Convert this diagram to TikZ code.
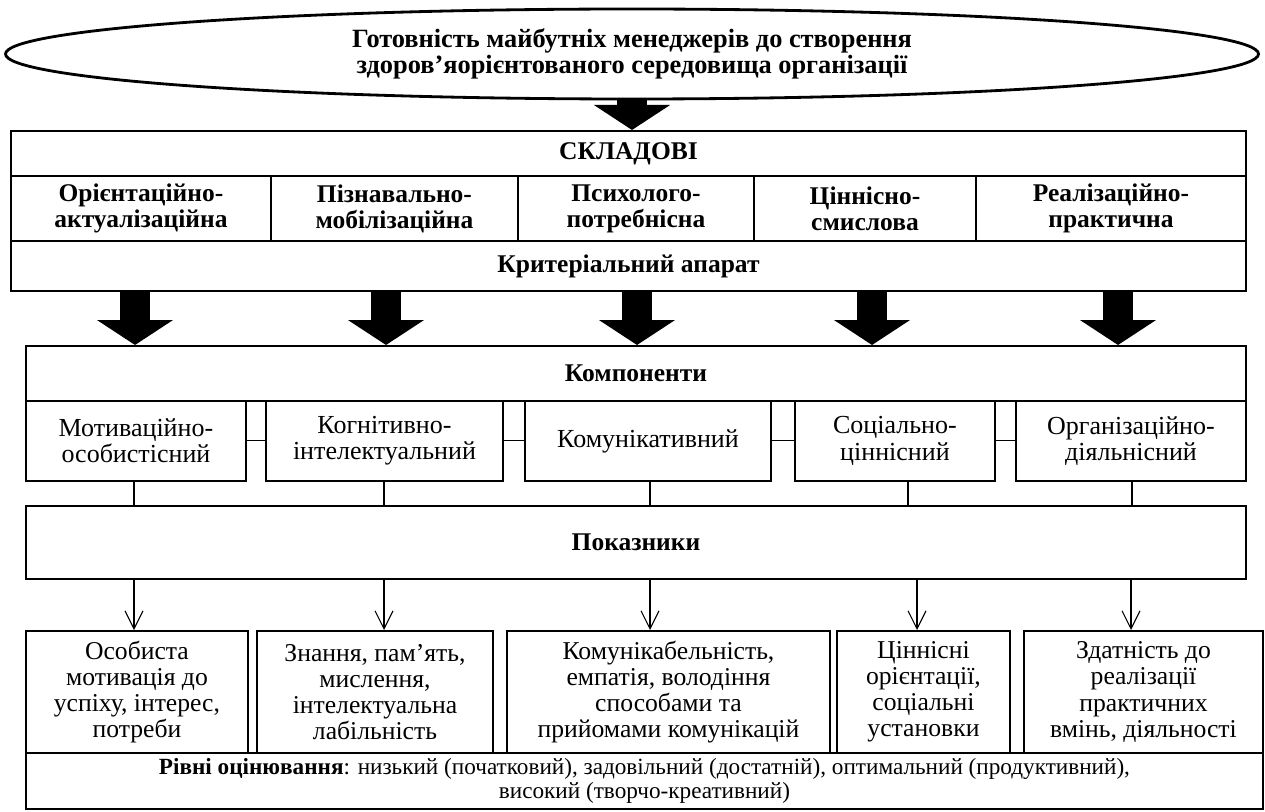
\documentclass[tikz,border=0pt]{standalone}
\usepackage{fontspec}
\setmainfont{Liberation Serif}
\usetikzlibrary{arrows.meta, shapes.geometric}
\newcommand{\setfs}[2]{\fontsize{#1}{#2}\selectfont\lineskiplimit=-30pt\relax}

\begin{document}
\begin{tikzpicture}[x=0.2mm, y=-0.2mm, font=\setfs{14.8}{15},
    box/.style={draw, line width=1.1pt, align=center, inner sep=0pt, anchor=north west},
    hd/.style={box, font=\setfs{14.5}{14.8}\bfseries},
    low/.style={box, font=\setfs{14.6}{14.8}},
    barr/.style={line width=6mm, -{Triangle[width=15mm, length=5mm]}},
    link/.style={line width=0.6pt},
    arr/.style={line width=0.6pt, -{Straight Barb[length=3.6mm, width=3.6mm, line width=0.6pt]}}]
  \useasboundingbox (0,0) rectangle (1265,811);
  \node[draw, ellipse, line width=1.6pt, minimum width=250.6mm, minimum height=18mm, align=center,
        font=\setfs{15}{14.5}\bfseries] (goal) at (632,54)
        {Готовність майбутніх менеджерів до створення\\здоров’яорієнтованого середовища організації};

  \node[hd, minimum width=247mm, minimum height=9mm] (sklad) at (10,130) {СКЛАДОВІ};
  \node[hd, minimum width=52mm, minimum height=13mm]   (s1) at (10,175)  {Орієнтаційно-\\актуалізаційна};
  \node[hd, minimum width=49.4mm, minimum height=13mm] (s2) at (270,175) {Пізнавально-\\мобілізаційна};
  \node[hd, minimum width=47.2mm, minimum height=13mm] (s3) at (517,175) {Психолого-\\потребнісна};
  \node[hd, minimum width=44.4mm, minimum height=13mm] (s4) at (753,175) {Ціннісно-\\смислова};
  \node[hd, minimum width=54mm, minimum height=13mm]   (s5) at (975,175) {Реалізаційно-\\практична};
  \node[hd, minimum width=247mm, minimum height=10mm] (krit) at (10,240) {Критеріальний апарат};

  \node[hd, minimum width=244mm, minimum height=11mm] (komp) at (25,345) {Компоненти};
  \node[box, minimum width=44mm, minimum height=16mm]   (k1) at (25,400)   {Мотиваційно-\\особистісний};
  \node[box, minimum width=47.4mm, minimum height=16mm] (k2) at (265,400)  {Когнітивно-\\інтелектуальний};
  \node[box, minimum width=49.2mm, minimum height=16mm] (k3) at (524,400)  {Комунікативний};
  \node[box, minimum width=40mm, minimum height=16mm]   (k4) at (794,400)  {Соціально-\\ціннісний};
  \node[box, minimum width=46mm, minimum height=16mm]   (k5) at (1015,400) {Організаційно-\\діяльнісний};

  \node[hd, minimum width=244mm, minimum height=14.6mm] (pok) at (25,505) {Показники};
  \node[low, minimum width=44.4mm, minimum height=24.4mm] (b1) at (25,630)   {Особиста\\мотивація до\\успіху, інтерес,\\потреби};
  \node[low, minimum width=47.2mm, minimum height=24.4mm] (b2) at (256,630)  {Знання, пам’ять,\\мислення,\\інтелектуальна\\лабільність};
  \node[low, minimum width=64.6mm, minimum height=24.4mm] (b3) at (506,630)  {Комунікабельність,\\емпатія, володіння\\способами та\\прийомами комунікацій};
  \node[low, minimum width=34.6mm, minimum height=24.4mm] (b4) at (836,630)  {Ціннісні\\орієнтації,\\соціальні\\установки};
  \node[low, minimum width=47.8mm, minimum height=24.4mm] (b5) at (1023,630) {Здатність до\\реалізації\\практичних\\вмінь, діяльності};
  \node[box, minimum width=247.4mm, minimum height=11.2mm, font=\setfs{13.2}{13.4}] (rivni) at (25,752)
        {\textbf{Рівні оцінювання}: низький (початковий), задовільний (достатній), оптимальний (продуктивний),\\високий (творчо-креативний)};

  \coordinate (a1) at (135,0);  \coordinate (a2) at (386,0);  \coordinate (a3) at (637,0);
  \coordinate (a4) at (872,0);  \coordinate (a5) at (1118,0);
  \coordinate (l1) at (134,0);  \coordinate (l2) at (384,0);  \coordinate (l3) at (650,0);
  \coordinate (l4) at (908,0);  \coordinate (l5) at (1132,0);
  \coordinate (p1) at (134,0);  \coordinate (p2) at (384,0);  \coordinate (p3) at (650,0);
  \coordinate (p4) at (917,0);  \coordinate (p5) at (1131,0);

  \draw[barr] (goal.south) -- (goal.south |- sklad.north);
  \foreach \i in {1,...,5}
    \draw[barr] (krit.south -| a\i) -- (komp.north -| a\i);
  \draw[link] (k1.east) -- (k2.west);
  \draw[link] (k2.east) -- (k3.west);
  \draw[link] (k3.east) -- (k4.west);
  \draw[link] (k4.east) -- (k5.west);
  \foreach \i in {1,...,5} {
    \draw[link] (k\i.south -| l\i) -- (pok.north -| l\i);
    \draw[arr] (pok.south -| p\i) -- (b\i.north -| p\i);
  }
\end{tikzpicture}
\end{document}
